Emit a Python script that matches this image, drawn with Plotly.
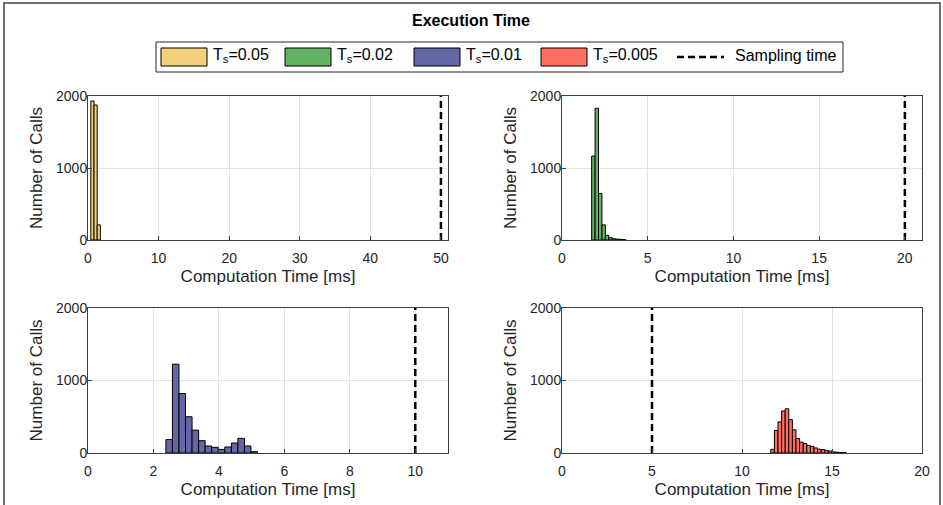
import plotly.graph_objects as go
from plotly.subplots import make_subplots

W, H = 943, 505

# ---------------- data ----------------
series_names = ["T<sub>s</sub>=0.05", "T<sub>s</sub>=0.02", "T<sub>s</sub>=0.01", "T<sub>s</sub>=0.005"]
sampling_ms = [50, 20, 10, 5]
colors = ["#F3D17C", "#63B162", "#6466A5", "#FE6F62"]
bin_start = [0.40, 1.73, 2.38, 11.6]
bin_width = [0.45, 0.20, 0.20, 0.20]
counts_005 = [1930, 1875, 210]
counts_002 = [1165, 1830, 645, 210, 65, 32, 18, 12, 8, 4]
counts_001 = [185, 1225, 820, 500, 315, 170, 97, 78, 50, 83, 138, 202, 97, 18]
counts_0005 = [50, 310, 430, 580, 610, 460, 320, 200, 150, 130, 105, 90, 70, 52, 47, 37, 28, 15, 10, 6, 3]
all_counts = [counts_005, counts_002, counts_001, counts_0005]
x_max = [51, 21, 11, 20]
x_dtick = [10, 5, 2, 5]
y_ticks = [0, 1000, 2000]
y_max = 2000
sampling_label = "Sampling time"
title_text = "Execution Time"
x_title = "Computation Time [ms]"
y_title = "Number of Calls"

FONT = "Liberation Sans, Arial, Helvetica, sans-serif"
TXT = "#262626"


def px_x(p):
    return p / W


def px_y(p):
    return 1 - p / H


fig = make_subplots(rows=2, cols=2)

positions = [(1, 1), (1, 2), (2, 1), (2, 2)]
for i, (r, c) in enumerate(positions):
    cnts = all_counts[i]
    w = bin_width[i]
    centers = [bin_start[i] + w * (k + 0.5) for k in range(len(cnts))]
    fig.add_trace(go.Bar(x=centers, y=cnts, width=[w] * len(cnts),
                         marker=dict(color=colors[i], line=dict(color="black", width=1)),
                         name=series_names[i], showlegend=False), row=r, col=c)
    fig.add_trace(go.Scatter(x=[sampling_ms[i], sampling_ms[i]], y=[0, y_max], mode="lines",
                             line=dict(color="black", width=2.5, dash="7px,4px"),
                             name=sampling_label, showlegend=False), row=r, col=c)

x_domains = [[88 / W, 448 / W], [562 / W, 922 / W]]
y_domains = [[px_y(240), px_y(96)], [px_y(453), px_y(308)]]

for i, (r, c) in enumerate(positions):
    fig.update_xaxes(row=r, col=c, domain=x_domains[c - 1], range=[0, x_max[i]], automargin=False,
                     tick0=0, dtick=x_dtick[i], showgrid=True, gridcolor="#e3e3e3",
                     showline=True, linecolor="#404040", linewidth=1, mirror=True,
                     ticks="inside", ticklen=4, tickcolor="#404040", zeroline=False,
                     ticklabelstandoff=5,
                     tickfont=dict(family=FONT, size=14, color=TXT),
                     title=dict(text=x_title, font=dict(family=FONT, size=17, color=TXT), standoff=5))
    fig.update_yaxes(row=r, col=c, domain=y_domains[r - 1], range=[0, y_max], automargin=False,
                     tickvals=y_ticks, showgrid=True, gridcolor="#e3e3e3",
                     showline=True, linecolor="#404040", linewidth=1, mirror=True,
                     ticks="inside", ticklen=4, tickcolor="#404040", zeroline=False,
                     ticklabelstandoff=-3,
                     tickfont=dict(family=FONT, size=14, color=TXT),
                     title=dict(text=y_title, font=dict(family=FONT, size=17, color=TXT), standoff=9))

shapes = []
annotations = []

# figure frame
shapes.append(dict(type="rect", xref="paper", yref="paper", x0=px_x(4), x1=px_x(940), y0=px_y(520), y1=px_y(3),
                   line=dict(color="#6e6e6e", width=2), fillcolor="rgba(0,0,0,0)", layer="below"))

# title
annotations.append(dict(text="<b>" + title_text + "</b>", xref="paper", yref="paper", x=px_x(471), y=px_y(20),
                        showarrow=False, xanchor="center", yanchor="middle",
                        font=dict(family=FONT, size=16, color="black")))

# legend box
shapes.append(dict(type="rect", xref="paper", yref="paper", x0=px_x(156), x1=px_x(843), y0=px_y(72), y1=px_y(42),
                   line=dict(color="#262626", width=1), fillcolor="white"))
patch_x = [161, 285, 414, 541]
for i in range(4):
    shapes.append(dict(type="rect", xref="paper", yref="paper",
                       x0=px_x(patch_x[i]), x1=px_x(patch_x[i] + 46), y0=px_y(66), y1=px_y(48),
                       line=dict(color="black", width=1), fillcolor=colors[i]))
    annotations.append(dict(text=series_names[i], xref="paper", yref="paper", x=px_x(patch_x[i] + 50), y=px_y(56),
                            showarrow=False, xanchor="left", yanchor="middle",
                            font=dict(family=FONT, size=16, color="black")))
shapes.append(dict(type="line", xref="paper", yref="paper", x0=px_x(677), x1=px_x(724), y0=px_y(57), y1=px_y(57),
                   line=dict(color="black", width=2.5, dash="7px,4px")))
annotations.append(dict(text=sampling_label, xref="paper", yref="paper", x=px_x(733), y=px_y(56),
                        showarrow=False, xanchor="left", yanchor="middle",
                        font=dict(family=FONT, size=16, color="black")))

fig.update_layout(width=W, height=H, margin=dict(l=0, r=0, t=0, b=0, autoexpand=False),
                  paper_bgcolor="white", plot_bgcolor="white", showlegend=False,
                  barmode="overlay", shapes=shapes, annotations=annotations,
                  font=dict(family=FONT, color=TXT))

fig.write_html("out.html", config={"displayModeBar": False},
               post_script="document.body.style.margin='0px';document.body.style.overflow='hidden';")
